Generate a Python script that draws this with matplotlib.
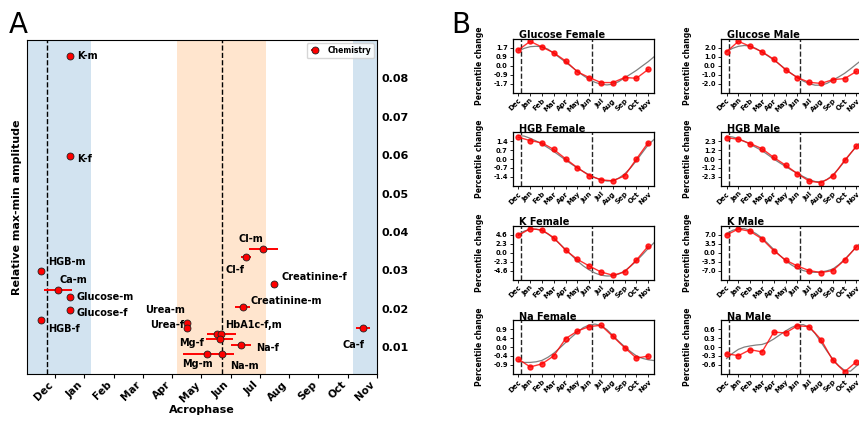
import matplotlib
matplotlib.use('Agg')
import matplotlib.pyplot as plt
import numpy as np

# ---- panel A data: acrophase (month axis, Dec tick = 1) vs relative amplitude
months_a = ['Dec', 'Jan', 'Feb', 'Mar', 'Apr', 'May', 'Jun',
            'Jul', 'Aug', 'Sep', 'Oct', 'Nov']
names = ['K-m', 'K-f', 'HGB-m', 'Ca-m', 'Glucose-m', 'Glucose-f', 'HGB-f',
         'Urea-m', 'Urea-f', 'Cl-m', 'Cl-f', 'Creatinine-f', 'Creatinine-m',
         'HbA1c-f', 'HbA1c-m', 'Mg-f', 'Na-f', 'Mg-m', 'Na-m', 'Ca-f']
acrophase = [1.50, 1.50, 0.51, 1.10, 1.50, 1.50, 0.51,
             5.51, 5.51, 8.12, 7.53, 8.48, 7.41,
             6.54, 6.68, 6.62, 7.36, 6.18, 6.70, 11.51]
acro_err = [0, 0, 0, 0.49, 0, 0, 0,
            0, 0, 0.49, 0.17, 0, 0.26,
            0.35, 0.50, 0.46, 0.34, 0.80, 0.40, 0.24]
amplitude = [0.0858, 0.0598, 0.0299, 0.0250, 0.0230, 0.0197, 0.0170,
             0.0163, 0.0150, 0.0356, 0.0334, 0.0265, 0.0205,
             0.0133, 0.0135, 0.0120, 0.0105, 0.0081, 0.0083, 0.0150]

# ---- panel B data: monthly percentile change (Dec..Nov) and fitted curve
months_b = months_a
b_titles = ['Glucose Female', 'Glucose Male', 'HGB Female', 'HGB Male',
            'K Female', 'K Male', 'Na Female', 'Na Male']
b_tick_max = [1.74, 2.0, 1.4, 2.34, 4.6, 7.0, 0.87, 0.62]

glucose_f = [1.55, 2.38, 1.82, 1.26, 0.47, -0.59, -1.15, -1.64, -1.64, -1.15, -1.22, -0.36]
glucose_m = [1.57, 2.74, 2.17, 1.57, 0.73, -0.46, -1.33, -1.86, -1.98, -1.56, -1.44, -0.64]
hgb_f = [1.71, 1.45, 1.27, 0.75, 0.02, -0.68, -1.30, -1.63, -1.71, -1.32, 0.0, 1.29]
hgb_m = [2.81, 2.59, 2.04, 1.36, 0.21, -0.81, -1.92, -2.90, -3.11, -2.26, -0.17, 1.66]
k_f = [4.5, 6.21, 5.88, 3.91, 0.66, -1.71, -3.41, -4.96, -5.80, -4.96, -1.88, 1.70]
k_m = [7.0, 9.33, 8.4, 5.44, 0.78, -2.88, -5.21, -7.0, -7.78, -7.0, -2.88, 2.33]
na_f = [-0.59, -0.97, -0.82, -0.43, 0.41, 0.78, 1.0, 1.06, 0.52, -0.03, -0.54, -0.44]
na_m = [-0.23, -0.30, -0.09, -0.17, 0.52, 0.49, 0.74, 0.71, 0.26, -0.46, -0.86, -0.51]

# fitted curves read every half month from Dec (0) to 11.5
glucose_f_fit = [1.45, 1.70, 1.86, 1.90, 1.85, 1.62, 1.22, 0.78, 0.34, -0.10, -0.55, -0.96,
                 -1.33, -1.62, -1.80, -1.87, -1.80, -1.55, -1.18, -0.82, -0.45, -0.02, 0.40, 0.88]
glucose_m_fit = [1.60, 1.95, 2.18, 2.27, 2.20, 1.93, 1.52, 1.10, 0.64, 0.14, -0.38, -0.88,
                 -1.33, -1.72, -2.02, -2.18, -2.18, -1.98, -1.62, -1.25, -0.85, -0.35, 0.18, 0.70]
hgb_f_fit = [1.85, 1.80, 1.63, 1.42, 1.17, 0.89, 0.59, 0.26, -0.08, -0.40, -0.70, -0.98,
             -1.24, -1.46, -1.63, -1.73, -1.70, -1.50, -1.17, -0.70, -0.13, 0.50, 1.11, 1.55]
hgb_m_fit = [3.0, 2.9, 2.68, 2.33, 1.92, 1.52, 1.10, 0.56, 0.0, -0.50, -0.98, -1.45,
             -1.88, -2.30, -2.68, -2.95, -2.99, -2.70, -2.09, -1.25, -0.30, 0.72, 1.70, 2.45]
k_f_fit = [4.68, 5.6, 6.1, 6.1, 5.70, 4.85, 3.65, 2.30, 0.85, -0.65, -2.13, -3.40,
           -4.43, -5.25, -5.80, -6.0, -5.97, -5.50, -4.69, -3.50, -2.13, -0.55, 1.10, 2.60]
k_m_fit = [7.5, 8.8, 9.45, 9.5, 8.8, 7.5, 5.83, 3.6, 1.28, -1.0, -3.11, -4.8,
           -6.1, -7.0, -7.54, -7.7, -7.54, -7.1, -6.38, -4.7, -2.6, -0.2, 2.33, 4.5]
na_f_fit = [-0.70, -0.75, -0.75, -0.72, -0.65, -0.50, -0.30, -0.05, 0.22, 0.48, 0.73, 0.95,
            1.08, 1.12, 1.05, 0.85, 0.57, 0.28, 0.02, -0.22, -0.43, -0.55, -0.62, -0.66]
na_m_fit = [-0.40, -0.22, -0.08, 0.0, 0.04, 0.07, 0.09, 0.16, 0.28, 0.42, 0.56, 0.68,
            0.77, 0.78, 0.69, 0.47, 0.17, -0.14, -0.42, -0.65, -0.81, -0.84, -0.66, -0.53]

b_values = [glucose_f, glucose_m, hgb_f, hgb_m, k_f, k_m, na_f, na_m]
b_fits = [glucose_f_fit, glucose_m_fit, hgb_f_fit, hgb_m_fit,
          k_f_fit, k_m_fit, na_f_fit, na_m_fit]

W, H = 859, 422
fig = plt.figure(figsize=(W / 100, H / 100), dpi=100)


def px_axes(left, top, width, height):
    return fig.add_axes([left / W, 1 - (top + height) / H, width / W, height / H])


# ================= panel A =================
ax = px_axes(27, 40, 350, 334)
ax.axvspan(0.04, 2.22, color='C0', alpha=0.2, lw=0)
ax.axvspan(11.17, 12, color='C0', alpha=0.2, lw=0)
ax.axvspan(5.18, 8.22, color='C1', alpha=0.2, lw=0)
ax.axvline(0.72, color='k', ls='--', lw=1)
ax.axvline(6.71, color='k', ls='--', lw=1)

ax.errorbar(acrophase, amplitude, xerr=acro_err, fmt='o', color='red',
            mec='#222222', mew=0.6, ms=5, ecolor='red', elinewidth=1.4,
            capsize=0, label='Chemistry', zorder=3)

# label offsets in pixels: (dx, dy, ha)
offsets = {
    'K-m': (7, 0, 'left'), 'K-f': (7, -3, 'left'),
    'HGB-m': (7, 9, 'left'), 'Ca-m': (1, 10, 'left'),
    'Glucose-m': (7, 0, 'left'), 'Glucose-f': (7, -3, 'left'),
    'HGB-f': (7, -9, 'left'), 'Urea-m': (-2, 13, 'right'),
    'Urea-f': (-3, 3, 'right'), 'Cl-m': (0, 10, 'right'),
    'Cl-f': (-2, -13, 'right'), 'Creatinine-f': (8, 7, 'left'),
    'Creatinine-m': (8, 6, 'left'), 'HbA1c-m': (4, 9, 'left'),
    'Mg-f': (-16, -4, 'right'), 'Na-f': (15, -3, 'left'),
    'Mg-m': (-9, -10, 'center'), 'Na-m': (8, -12, 'left'),
    'Ca-f': (2, -17, 'right'),
}
for n, x, y in zip(names, acrophase, amplitude):
    if n not in offsets:
        continue
    dx, dy, ha = offsets[n]
    txt = 'HbA1c-f,m' if n == 'HbA1c-m' else n
    ax.annotate(txt, (x, y), xytext=(dx, dy), textcoords='offset pixels',
                ha=ha, va='center', fontsize=7, fontweight='bold')

ax.set_xlim(0.04, 12)
ax.set_ylim(0.003, 0.09)
ax.set_xticks(range(1, 13))
ax.set_xticklabels(months_a, rotation=45, ha='right', fontsize=7.5, fontweight='bold')
ax.tick_params(axis='x', length=3, pad=1)
ax.yaxis.tick_right()
ax.set_yticks([0.01, 0.02, 0.03, 0.04, 0.05, 0.06, 0.07, 0.08])
ax.set_yticklabels(['%.2f' % v for v in ax.get_yticks()], fontsize=8, fontweight='bold')
ax.tick_params(axis='y', length=0, pad=3)
ax.set_xlabel('Acrophase', fontsize=8, fontweight='bold', labelpad=1)
ax.set_ylabel('Relative max-min amplitude', fontsize=8, fontweight='bold')
ax.yaxis.set_label_position('left')
ax.yaxis.set_label_coords(-0.014, 0.5)
ax.legend(loc='upper right', prop={'weight': 'bold', 'size': 5.5},
          borderaxespad=0.4, handlelength=1.5)

fig.text(9 / W, 1 - 33 / H, 'A', fontsize=20, va='baseline')
fig.text(451 / W, 1 - 33 / H, 'B', fontsize=20, va='baseline')

# ================= panel B =================
fit_x = np.arange(0, 12, 0.5)
lefts = [512.5, 720.7]
tops = [39, 132.3, 226, 320.3]
for i, (title, vals, fit, tmax) in enumerate(zip(b_titles, b_values, b_fits, b_tick_max)):
    r, c = divmod(i, 2)
    bx = px_axes(lefts[c], tops[r], 141.6, 53.5)
    bx.axvline(0.2, color='k', ls='--', lw=1, alpha=0.85)
    bx.axvline(6.2, color='k', ls='--', lw=1, alpha=0.85)
    bx.plot(fit_x, fit, color='gray', lw=0.9)
    bx.plot(range(12), vals, color='red', alpha=0.8, lw=1.0, marker='o', ms=3.6)
    bx.set_xlim(-0.5, 11.5)
    bx.set_ylim(-1.5 * tmax, 1.5 * tmax)
    yt = [-tmax, -tmax / 2, 0, tmax / 2, tmax]
    bx.set_yticks(yt)
    bx.set_yticklabels(['%.1f' % v for v in yt], fontsize=4.8, fontweight='bold')
    bx.set_xticks(range(12))
    bx.set_xticklabels(months_b, rotation=45, ha='right', rotation_mode='anchor',
                       fontsize=5, fontweight='bold')
    bx.tick_params(length=2, pad=1.5, width=0.6)
    for s in bx.spines.values():
        s.set_linewidth(0.9)
    bx.set_ylabel('Percentile change', fontsize=5.5, fontweight='bold')
    bx.yaxis.set_label_coords(-0.2, 0.5)
    bx.text(0.046, 1.013, title, transform=bx.transAxes, ha='left', va='baseline',
            fontsize=7, fontweight='bold')

fig.savefig('out.png', dpi=100)
